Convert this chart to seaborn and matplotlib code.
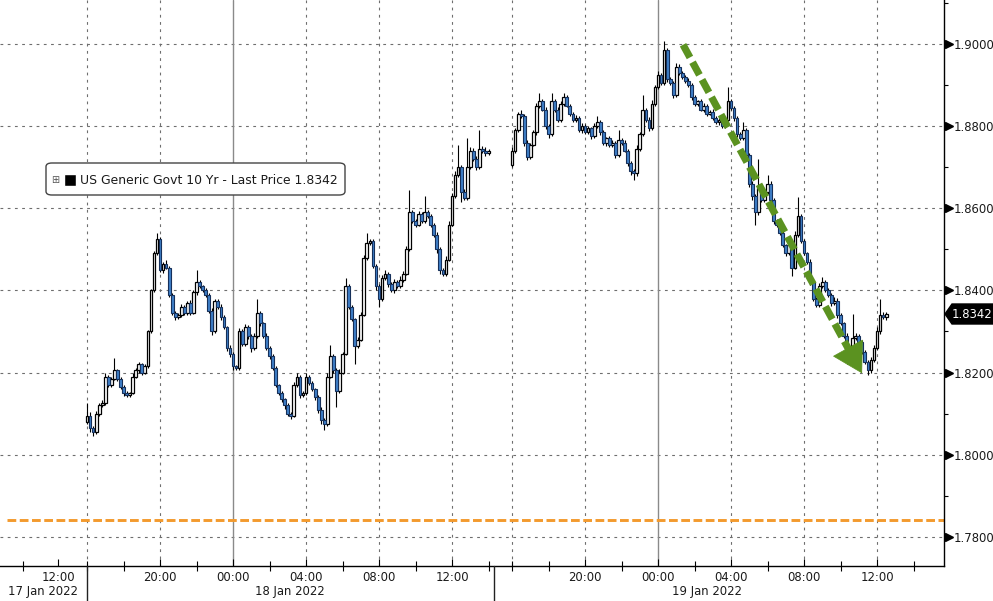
import numpy as np
import pandas as pd
import seaborn as sns
import matplotlib.pyplot as plt
from matplotlib.patches import Polygon, FancyBboxPatch
from matplotlib.transforms import blended_transform_factory

# --- data: 10-minute candles, US 10Y generic yield ---
# session 1: 17 Jan 16:00 -> 18 Jan 14:00, session 2: 18 Jan 16:00 -> 19 Jan 12:30
first_open = [1.8080, 1.8705]

close_s1 = [1.8095, 1.8065, 1.8055, 1.8100, 1.8120, 1.8125, 1.8190, 1.8170, 1.8185, 1.8205,
            1.8185, 1.8165, 1.8150, 1.8145, 1.8150, 1.8190, 1.8205, 1.8220, 1.8200, 1.8215,
            1.8300, 1.8400, 1.8490, 1.8525, 1.8450, 1.8465, 1.8455, 1.8390, 1.8345, 1.8335,
            1.8340, 1.8360, 1.8345, 1.8370, 1.8345, 1.8395, 1.8420, 1.8410, 1.8400, 1.8390,
            1.8350, 1.8300, 1.8375, 1.8360, 1.8335, 1.8310, 1.8260, 1.8245, 1.8215, 1.8210,
            1.8300, 1.8270, 1.8310, 1.8290, 1.8260, 1.8290, 1.8345, 1.8320, 1.8290, 1.8260,
            1.8240, 1.8210, 1.8170, 1.8150, 1.8135, 1.8120, 1.8100, 1.8095, 1.8170, 1.8190,
            1.8145, 1.8150, 1.8190, 1.8175, 1.8160, 1.8140, 1.8110, 1.8085, 1.8075, 1.8190,
            1.8240, 1.8205, 1.8155, 1.8200, 1.8245, 1.8410, 1.8360, 1.8330, 1.8265, 1.8280,
            1.8340, 1.8480, 1.8515, 1.8520, 1.8460, 1.8410, 1.8380, 1.8430, 1.8440, 1.8415,
            1.8400, 1.8420, 1.8410, 1.8425, 1.8440, 1.8500, 1.8590, 1.8570, 1.8560, 1.8585,
            1.8570, 1.8590, 1.8580, 1.8560, 1.8535, 1.8500, 1.8450, 1.8440, 1.8475, 1.8560,
            1.8630, 1.8680, 1.8700, 1.8640, 1.8625, 1.8700, 1.8740, 1.8720, 1.8700, 1.8745,
            1.8740, 1.8735, 1.8740]

close_s2 = [1.8740, 1.8790, 1.8830, 1.8825, 1.8760, 1.8725, 1.8755, 1.8785, 1.8850, 1.8860,
            1.8840, 1.8800, 1.8780, 1.8860, 1.8840, 1.8815, 1.8855, 1.8870, 1.8850, 1.8830,
            1.8815, 1.8820, 1.8790, 1.8800, 1.8785, 1.8795, 1.8775, 1.8800, 1.8810, 1.8785,
            1.8760, 1.8770, 1.8755, 1.8760, 1.8730, 1.8765, 1.8760, 1.8740, 1.8710, 1.8690,
            1.8685, 1.8745, 1.8780, 1.8840, 1.8815, 1.8795, 1.8855, 1.8895, 1.8925, 1.8905,
            1.8985, 1.8915, 1.8905, 1.8875, 1.8945, 1.8930, 1.8920, 1.8910, 1.8900, 1.8870,
            1.8855, 1.8860, 1.8840, 1.8850, 1.8830, 1.8835, 1.8820, 1.8810, 1.8815, 1.8800,
            1.8815, 1.8860, 1.8845, 1.8820, 1.8780, 1.8770, 1.8790, 1.8730, 1.8660, 1.8630,
            1.8590, 1.8650, 1.8620, 1.8640, 1.8660, 1.8620, 1.8570, 1.8560, 1.8540, 1.8510,
            1.8490, 1.8510, 1.8455, 1.8535, 1.8580, 1.8520, 1.8490, 1.8470, 1.8420, 1.8380,
            1.8365, 1.8410, 1.8420, 1.8400, 1.8390, 1.8370, 1.8375, 1.8340, 1.8320, 1.8290,
            1.8240, 1.8235, 1.8285, 1.8290, 1.8275, 1.8250, 1.8225, 1.8205, 1.8230, 1.8260,
            1.8300, 1.8340, 1.8335, 1.8342]

# wick lengths beyond the body, in 0.0001
hi_wick_s1 = [30, 8, 4, 6, 5, 7, 10, 5, 4, 30, 3, 5, 4, 6, 3, 8, 5, 6, 4, 5,
              3, 4, 5, 15, 6, 4, 8, 5, 3, 6, 4, 8, 5, 4, 6, 5, 30, 6, 4, 5,
              4, 6, 5, 3, 7, 5, 4, 6, 5, 4, 8, 6, 7, 5, 4, 6, 33, 5, 4, 6,
              5, 4, 6, 3, 5, 4, 6, 5, 8, 10, 4, 6, 8, 5, 4, 3, 6, 5, 4, 8,
              28, 5, 6, 8, 5, 20, 6, 5, 4, 6, 8, 5, 25, 6, 4, 5, 6, 8, 10, 5,
              6, 8, 5, 10, 6, 8, 55, 6, 5, 8, 5, 40, 6, 5, 4, 6, 5, 4, 8, 10,
              8, 10, 55, 6, 8, 70, 10, 6, 8, 45, 6, 8, 5]
lo_wick_s1 = [6, 10, 10, 4, 5, 3, 4, 6, 5, 3, 6, 5, 8, 4, 5, 3, 4, 6, 5, 4,
              3, 4, 3, 5, 6, 8, 4, 5, 6, 8, 4, 5, 6, 4, 5, 3, 6, 4, 5, 6,
              5, 8, 4, 5, 6, 5, 8, 6, 10, 5, 4, 6, 5, 8, 10, 4, 5, 6, 5, 4,
              6, 5, 4, 5, 6, 8, 6, 8, 4, 5, 6, 5, 4, 6, 5, 6, 8, 10, 15, 5,
              4, 6, 40, 5, 4, 3, 6, 5, 45, 6, 4, 3, 5, 4, 6, 8, 20, 5, 4, 6,
              5, 6, 5, 4, 5, 3, 4, 6, 5, 4, 6, 5, 4, 6, 5, 8, 10, 6, 4, 3,
              4, 5, 4, 24, 6, 5, 4, 6, 8, 5, 6, 8, 6]
hi_wick_s2 = [10, 6, 5, 8, 5, 6, 4, 5, 6, 20, 5, 6, 4, 20, 5, 6, 5, 10, 6, 5,
              4, 6, 5, 8, 5, 6, 4, 8, 15, 5, 6, 4, 5, 6, 4, 25, 5, 6, 4, 5,
              6, 8, 6, 36, 5, 6, 8, 6, 8, 5, 21, 6, 5, 4, 8, 6, 5, 4, 6, 5,
              6, 4, 5, 6, 5, 4, 6, 5, 4, 6, 8, 35, 6, 5, 4, 6, 20, 5, 4, 6,
              5, 70, 6, 8, 20, 6, 5, 4, 6, 5, 4, 8, 5, 10, 48, 6, 5, 4, 6, 5,
              4, 8, 13, 6, 5, 4, 8, 6, 5, 4, 6, 8, 58, 6, 5, 4, 6, 5, 8, 6,
              10, 40, 8, 6]
lo_wick_s2 = [5, 6, 5, 6, 8, 8, 5, 4, 6, 5, 4, 6, 10, 5, 6, 4, 5, 6, 4, 5,
              6, 5, 4, 6, 5, 4, 6, 5, 4, 6, 5, 8, 6, 5, 8, 6, 5, 4, 6, 8,
              17, 6, 5, 4, 6, 8, 5, 6, 4, 5, 6, 8, 5, 6, 4, 5, 6, 5, 4, 6,
              5, 6, 4, 5, 6, 4, 5, 6, 8, 5, 4, 6, 5, 8, 6, 5, 4, 6, 8, 10,
              32, 6, 5, 4, 6, 5, 8, 6, 5, 4, 6, 5, 20, 4, 6, 5, 4, 6, 8, 6,
              5, 6, 4, 5, 6, 8, 5, 6, 4, 6, 20, 8, 5, 6, 4, 6, 5, 10, 6, 5,
              4, 6, 5, 8]

last_price = 1.8342
ref_level = 1.7841           # orange dashed level
y_ticks = [1.78, 1.80, 1.82, 1.84, 1.86, 1.88, 1.90]
time_labels = ["12:00", "20:00", "00:00", "04:00", "08:00", "12:00",
               "20:00", "00:00", "04:00", "08:00", "12:00"]
date_labels = ["17 Jan 2022", "18 Jan 2022", "19 Jan 2022"]
legend_text = "US Generic Govt 10 Yr - Last Price 1.8342"

# --- layout (x axis in hours, sessions glued together) ---
BAR = 1 / 6
GAP = 23.29          # plot position of 18 Jan 16:00
W, H = 993, 601

sns.set_theme(style="white")
plt.rcParams['font.family'] = ['DejaVu Sans']
TXT = '#1a1a1a'


def build(closes, o0, hw, lw_, x0):
    c = np.array(closes)
    o = np.r_[o0, c[:-1]]
    return pd.DataFrame({
        "x": x0 + np.arange(len(c)) * BAR,
        "o": o, "c": c,
        "hi": np.maximum(o, c) + np.array(hw) * 1e-4,
        "lo": np.minimum(o, c) - np.array(lw_) * 1e-4,
    })


df = pd.concat([build(close_s1, first_open[0], hi_wick_s1, lo_wick_s1, 0.0),
                build(close_s2, first_open[1], hi_wick_s2, lo_wick_s2, GAP)],
               ignore_index=True)
up = df["c"] >= df["o"]

fig = plt.figure(figsize=(W / 100, H / 100), dpi=100, facecolor='white')
ax = fig.add_axes([0, 35 / H, 944 / W, 566 / H])
ax.set_facecolor('white')
ax.set_xlim(-4.77, 46.96)
ax.set_ylim(1.7729, 1.9107)

# grid
for yv in y_ticks:
    ax.axhline(yv, color='#6e6e6e', lw=0.8, ls=(0, (2.5, 4)), zorder=0)
for xv in [0, 4, 12, 16, 20, GAP, GAP + 4, GAP + 12, GAP + 16, GAP + 20]:
    ax.axvline(xv, color='#6e6e6e', lw=0.8, ls=(0, (2.5, 4)), zorder=0)
for xv in [8, GAP + 8]:
    ax.axvline(xv, color='#8a8a8a', lw=1.0, zorder=0)

# orange dashed level
ax.axhline(ref_level, xmin=7 / 944, color='#f39a2e', lw=2.1, dashes=(3.0, 1.2), zorder=1)

# candles
ax.vlines(df["x"], df["lo"], df["hi"], color='black', lw=0.8, zorder=2)
ax.bar(df.loc[up, "x"], (df["c"] - df["o"])[up], bottom=df.loc[up, "o"], width=0.9 * BAR,
       color='white', edgecolor='black', lw=0.9, zorder=3)
ax.bar(df.loc[~up, "x"], (df["c"] - df["o"])[~up], bottom=df.loc[~up, "o"], width=0.9 * BAR,
       color='#3f7fc8', edgecolor='#16305a', lw=0.8, zorder=3)

# green dashed arrow
green = '#5b9220'
ax.plot([32.66, 41.73], [1.8998, 1.8257], color=green, lw=5.2, dashes=(2.0, 0.75),
        dash_capstyle='butt', zorder=4)
ax.annotate('', xy=(42.47, 1.8198), xytext=(41.73, 1.8257),
            arrowprops=dict(arrowstyle='-|>,head_length=1.45,head_width=0.85', color=green,
                            lw=0.5, mutation_scale=14, shrinkA=0, shrinkB=0), zorder=4)

# spines
sns.despine(ax=ax, left=True, top=True, right=False, bottom=False)
for s in ['right', 'bottom']:
    ax.spines[s].set_color('black')
    ax.spines[s].set_linewidth(1.0)

# y axis on the right
ax.yaxis.tick_right()
ax.set_yticks(y_ticks)
ax.set_yticklabels([f"{v:.4f}" for v in y_ticks])
ax.set_yticks([1.79, 1.81, 1.83, 1.85, 1.87, 1.89, 1.91], minor=True)
ax.tick_params(axis='y', which='major', length=0, pad=7.2, labelsize=8.4, labelcolor=TXT,
               left=False, right=True)
ax.tick_params(axis='y', which='minor', length=3, width=0.8, direction='out', color='black',
               left=False, right=True)
tr = blended_transform_factory(ax.transAxes, ax.transData)
ax.plot([1 + 4.5 / 944] * len(y_ticks), y_ticks, ls='none', marker='>', ms=6,
        color='black', transform=tr, clip_on=False, zorder=5)

# x axis
ax.set_xticks([-1.59, 4, 8, 12, 16, 20, GAP + 4, GAP + 8, GAP + 12, GAP + 16, GAP + 20])
ax.set_xticklabels(time_labels)
ax.set_xticks([-3.5, 0, 2, 6, 10, 14, 18, 22, GAP, GAP + 2, GAP + 6, GAP + 10,
               GAP + 14, GAP + 18, GAP + 22], minor=True)
ax.tick_params(axis='x', which='major', direction='in', length=5, width=0.8, color='black',
               pad=3.5, labelsize=8.4, labelcolor=TXT, bottom=True)
ax.tick_params(axis='x', which='minor', direction='inout', length=7, width=0.8,
               color='black', bottom=True)

# date row and session separators
fig.text(78 / W, 1 - 592 / H, date_labels[0], ha='right', va='center', fontsize=8.4, color=TXT)
fig.text(290 / W, 1 - 592 / H, date_labels[1], ha='center', va='center', fontsize=8.4, color=TXT)
fig.text(707 / W, 1 - 592 / H, date_labels[2], ha='center', va='center', fontsize=8.4, color=TXT)
for px in [87, 494]:
    fig.add_artist(plt.Line2D([px / W, px / W], [0, 1 - 566 / H], color='#222222', lw=1.0))

# last price tag
tag = [(945, 314), (952, 304), (993, 304), (993, 324), (952, 324)]
fig.add_artist(Polygon([(x / W, 1 - y / H) for x, y in tag], closed=True,
                       facecolor='black', edgecolor='black', transform=fig.transFigure))
fig.text(972 / W, 1 - 314 / H, f"{last_price:.4f}", ha='center', va='center',
         fontsize=8.4, color='white')

# legend box
fig.add_artist(FancyBboxPatch((46 / W, 1 - 195 / H), 299 / W, 32 / H,
                              boxstyle='round,pad=0,rounding_size=0.006',
                              facecolor='white', edgecolor='#444444', lw=1.0,
                              transform=fig.transFigure))
fig.text(55 / W, 1 - 180 / H, '\u229e', ha='center', va='center', fontsize=7, color='#555555')
fig.add_artist(plt.Rectangle((64 / W, 1 - 186 / H), 12 / W, 12 / H, facecolor='black',
                             transform=fig.transFigure))
fig.text(80 / W, 1 - 180 / H, legend_text, ha='left', va='center', fontsize=8.9, color=TXT)

fig.savefig('out.png', dpi=100, facecolor='white')
